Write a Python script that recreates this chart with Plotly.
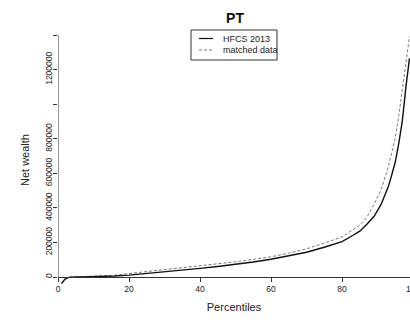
import plotly.graph_objects as go

# Net wealth by percentile, Portugal
percentiles = [1, 2, 3, 4, 5, 7, 10, 13, 16, 20, 25, 30, 35, 40, 45, 50, 55, 60,
               65, 70, 75, 80, 83, 85, 87, 89, 91, 92, 93, 94, 95, 96, 97, 98, 99]
hfcs_2013 = [-38000, -12000, -2000, 0, 200, 800, 1500, 3000, 5500, 11000, 20000,
             30000, 40000, 50000, 61000, 73000, 87000, 103000, 122000, 143000,
             172000, 205000, 240000, 265000, 305000, 350000, 420000, 465000,
             520000, 590000, 665000, 775000, 905000, 1100000, 1265000]
matched_data = [-35000, -10000, -1000, 0, 300, 1000, 2500, 5500, 10000, 20000,
                31000, 42000, 52000, 63000, 75000, 88000, 102000, 117000, 138000,
                163000, 196000, 232000, 272000, 300000, 345000, 420000, 505000,
                565000, 635000, 720000, 805000, 935000, 1080000, 1230000, 1390000]

x_ticks = [0, 20, 40, 60, 80, 100]
y_ticks = [0, 200000, 400000, 600000, 800000, 1000000, 1200000, 1400000]
y_tick_labels = ["0", "200000", "400000", "600000", "800000", "", "1200000", ""]

FONT = "Liberation Sans, Arial, sans-serif"
X_MAX = 99.15
Y_MIN, Y_MAX = -75200, 1428900
x_axis_pos = -Y_MIN / (Y_MAX - Y_MIN)

fig = go.Figure()
fig.add_trace(go.Scatter(x=percentiles, y=matched_data, mode="lines",
                         line=dict(color="#7a7a7a", width=1, dash="3px,2px"),
                         name="matched data"))
fig.add_trace(go.Scatter(x=percentiles, y=hfcs_2013, mode="lines",
                         line=dict(color="#111111", width=1.4),
                         name="HFCS 2013"))

# y axis line only spans the tick range
fig.add_shape(type="line", xref="x", yref="y", x0=0, x1=0, y0=y_ticks[0], y1=y_ticks[-1],
              line=dict(color="#333333", width=1))

# legend drawn by hand: box, line keys, labels
fig.add_shape(type="rect", xref="paper", yref="paper",
              x0=(191 - 58) / 352, x1=(277 - 58) / 352,
              y0=(290 - 60) / 260, y1=(290 - 30) / 260,
              line=dict(color="#333333", width=1), fillcolor="white")
legend_rows = [("HFCS 2013", "#111111", "solid", 1.2, 38.5),
               ("matched data", "#7a7a7a", "3px,2px", 1, 50)]
for label, color, dash, width, py in legend_rows:
    yp = (290 - py) / 260
    fig.add_shape(type="line", xref="paper", yref="paper",
                  x0=(199 - 58) / 352, x1=(213 - 58) / 352, y0=yp, y1=yp,
                  line=dict(color=color, width=width, dash=dash))
    fig.add_annotation(text=label, xref="paper", yref="paper",
                       x=(221 - 58) / 352, y=yp, xanchor="left", yanchor="middle",
                       showarrow=False, font=dict(family=FONT, size=9, color="#222222"))

# last x tick label sits past the right edge of the plotting area
fig.add_annotation(text=str(x_ticks[-1]), xref="paper", yref="paper",
                   x=x_ticks[-1] / X_MAX, y=x_axis_pos, yshift=-5,
                   xanchor="center", yanchor="top", showarrow=False,
                   font=dict(family=FONT, size=8.5, color="#222222"))

fig.update_layout(
    width=410, height=320,
    margin=dict(l=58, r=0, t=30, b=30),
    paper_bgcolor="white", plot_bgcolor="white",
    showlegend=False,
    font=dict(family=FONT, color="#222222"),
    title=dict(text="<b>PT</b>", x=(235 - 0) / 410, xanchor="center",
               y=1 - 18 / 320, yanchor="middle",
               font=dict(family=FONT, size=14, color="#111111")),
    xaxis=dict(range=[0, X_MAX], anchor="free", position=x_axis_pos,
               tickvals=x_ticks, ticks="outside", ticklen=4, tickwidth=1,
               tickcolor="#333333", showline=True, linecolor="#333333", linewidth=1,
               showgrid=False, zeroline=False,
               tickfont=dict(family=FONT, size=8.5, color="#222222"),
               title=dict(text="Percentiles", standoff=10,
                          font=dict(family=FONT, size=11, color="#222222")),
               automargin=False),
    yaxis=dict(range=[Y_MIN, Y_MAX], tickvals=y_ticks, ticktext=y_tick_labels,
               ticks="outside", ticklen=4, tickwidth=1, tickcolor="#333333",
               ticklabelstandoff=-2,
               showline=False, showgrid=False, zeroline=False, tickangle=-90,
               tickfont=dict(family=FONT, size=8.5, color="#222222"),
               title=dict(text="Net wealth", standoff=11,
                          font=dict(family=FONT, size=11, color="#222222")),
               automargin=False),
)

fig.write_html("out.html")
